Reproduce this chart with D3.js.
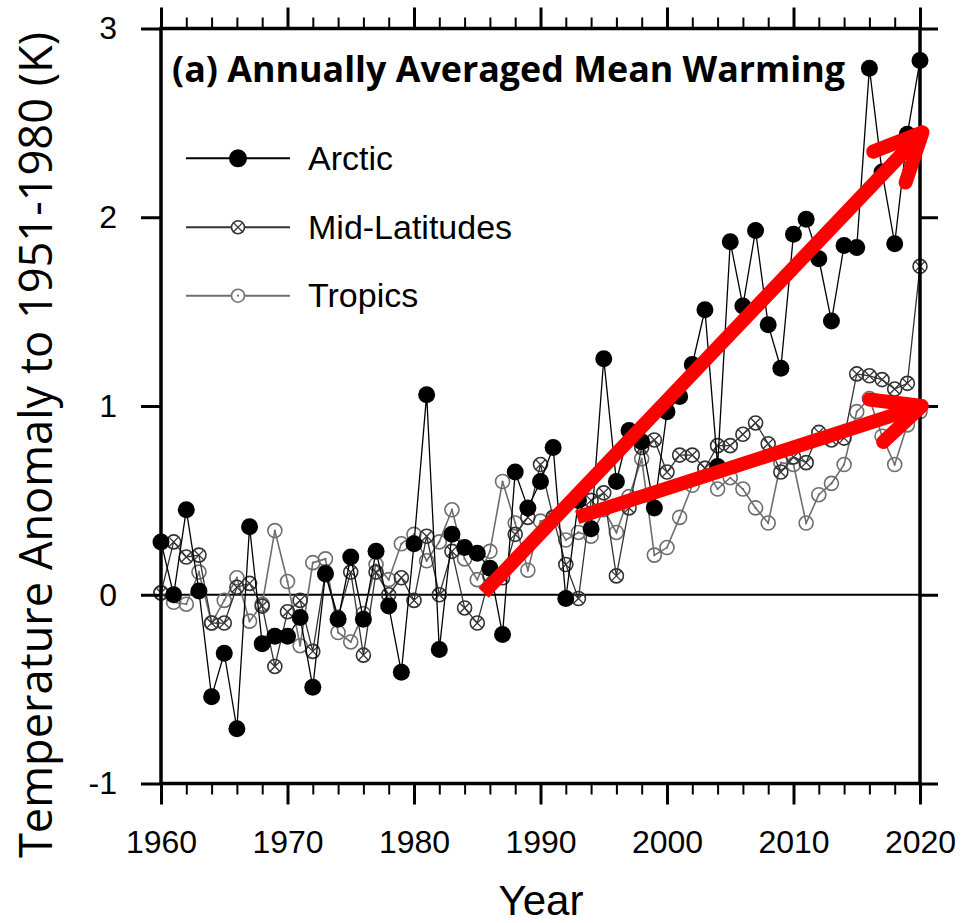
<!DOCTYPE html>
<html lang="en">
<head>
    <meta charset="UTF-8">
    <title>Annually averaged mean warming</title>
    <script src="https://cdn.jsdelivr.net/npm/d3@7"></script>
    <style>
        body { margin: 0; background: #fff; }
        svg text { font-family: 'Liberation Sans', Arial, sans-serif; }
    </style>
</head>
<body>
<script>
    // anomaly to 1951-1980 (K), one value per year 1960..2020
    const years = d3.range(1960, 2021);
    const arctic = [0.28, 0.00, 0.45, 0.02, -0.54, -0.31, -0.71, 0.36, -0.26, -0.22,
        -0.22, -0.12, -0.49, 0.11, -0.13, 0.20, -0.13, 0.23, -0.06, -0.41,
        0.27, 1.06, -0.29, 0.32, 0.25, 0.22, 0.14, -0.21, 0.65, 0.46,
        0.60, 0.78, -0.02, 0.50, 0.35, 1.25, 0.60, 0.87, 0.81, 0.46,
        0.97, 1.05, 1.22, 1.51, 0.68, 1.87, 1.53, 1.93, 1.43, 1.20,
        1.91, 1.99, 1.78, 1.45, 1.85, 1.84, 2.79, 2.24, 1.86, 2.44,
        2.83];
    const midLat = [0.01, 0.28, 0.20, 0.21, -0.15, -0.15, 0.04, 0.06, -0.06, -0.38,
        -0.09, -0.03, -0.30, 0.12, -0.12, 0.12, -0.32, 0.12, 0.00, 0.09,
        -0.03, 0.31, 0.00, 0.23, -0.07, -0.15, 0.10, 0.09, 0.32, 0.41,
        0.69, 0.41, 0.16, -0.02, 0.50, 0.54, 0.10, 0.46, 0.78, 0.82,
        0.65, 0.74, 0.74, 0.67, 0.79, 0.79, 0.85, 0.91, 0.80, 0.65,
        0.73, 0.70, 0.86, 0.82, 0.83, 1.17, 1.16, 1.14, 1.09, 1.12,
        1.74];
    const tropics = [0.01, -0.04, -0.05, 0.12, -0.15, -0.03, 0.09, -0.14, -0.05, 0.34,
        0.07, -0.27, 0.17, 0.19, -0.20, -0.25, -0.10, 0.16, 0.08, 0.27,
        0.32, 0.18, 0.28, 0.45, 0.19, 0.08, 0.23, 0.60, 0.38, 0.13,
        0.39, 0.41, 0.29, 0.33, 0.31, 0.45, 0.33, 0.52, 0.72, 0.21,
        0.25, 0.41, 0.58, 0.67, 0.56, 0.62, 0.56, 0.46, 0.38, 0.70,
        0.69, 0.38, 0.53, 0.59, 0.69, 0.97, 1.04, 0.84, 0.69, 0.90,
        0.97];

    const xMajor = [1960, 1970, 1980, 1990, 2000, 2010, 2020];
    const xMinor = d3.range(1960, 2021, 2);
    const yTicks = [-1, 0, 1, 2, 3];
    const seriesNames = ["Arctic", "Mid-Latitudes", "Tropics"];

    // red trend arrows drawn over the data (year, K)
    const arrowFrom = [[1985.5, 0.01], [1992.9, 0.41]];
    const arrowTo = [[2020.2, 2.45], [2020.15, 1.0]];

    const W = 961, H = 923;
    const x = d3.scaleLinear().domain([1960, 2020]).range([161, 920]);
    const y = d3.scaleLinear().domain([-1, 3]).range([783.5, 28.5]);

    const svg = d3.select("body").append("svg").attr("width", W).attr("height", H);

    // zero line
    svg.append("line")
        .attr("x1", x(1960)).attr("x2", x(2020))
        .attr("y1", y(0)).attr("y2", y(0))
        .attr("stroke", "#000").attr("stroke-width", 2);

    const styles = [
        {vals: arctic, line: "#000", lw: 1.3, marker: "dot"},
        {vals: midLat, line: "#333", lw: 1.3, marker: "cross"},
        {vals: tropics, line: "#6e6e6e", lw: 1.6, marker: "open"}
    ];

    function drawMarker(g, kind, col, r) {
        if (kind === "dot") {
            g.append("circle").attr("r", r).attr("fill", "#000");
        } else {
            g.append("circle").attr("r", r).attr("fill", "none")
                .attr("stroke", col).attr("stroke-width", 1.6);
            if (kind === "cross") {
                const k = r * 0.72;
                g.append("path").attr("d", `M${-k},${-k}L${k},${k}M${-k},${k}L${k},${-k}`)
                    .attr("stroke", col).attr("stroke-width", 1.3);
            } else {
                g.append("circle").attr("r", 1.1).attr("fill", col);
            }
        }
    }

    const line = d3.line().x((d, i) => x(years[i])).y(d => y(d));

    // tropics first, arctic on top
    [2, 1, 0].forEach(s => {
        const st = styles[s];
        svg.append("path").datum(st.vals)
            .attr("d", line)
            .attr("fill", "none")
            .attr("stroke", st.line)
            .attr("stroke-width", st.lw);
        const mk = svg.append("g").selectAll("g")
            .data(st.vals)
            .join("g")
            .attr("transform", (d, i) => `translate(${x(years[i])},${y(d)})`);
        mk.each(function () {
            drawMarker(d3.select(this), st.marker, st.line, st.marker === "dot" ? 8.5 : 7);
        });
    });

    // axes: minor and major ticks, all outward
    function tickStyle(g, w) {
        g.select(".domain").remove();
        g.selectAll(".tick line").attr("stroke", "#000").attr("stroke-width", w);
    }
    const plain = d => String(d); // hyphen minus, not unicode minus
    svg.append("g").attr("transform", `translate(0,${y(-1)})`)
        .call(d3.axisBottom(x).tickValues(xMinor).tickSize(11).tickFormat(""))
        .call(tickStyle, 2);
    svg.append("g").attr("transform", `translate(0,${y(3)})`)
        .call(d3.axisTop(x).tickValues(xMinor).tickSize(11).tickFormat(""))
        .call(tickStyle, 2);
    svg.append("g").attr("transform", `translate(0,${y(3)})`)
        .call(d3.axisTop(x).tickValues(xMajor).tickSize(21).tickFormat(""))
        .call(tickStyle, 3);
    const xb = svg.append("g").attr("transform", `translate(0,${y(-1)})`)
        .call(d3.axisBottom(x).tickValues(xMajor).tickSize(21).tickPadding(26).tickFormat(plain))
        .call(tickStyle, 3);
    xb.selectAll("text").attr("font-size", 32).attr("fill", "#000")
        .attr("font-family", "'Liberation Sans', Arial, sans-serif");

    const yl = svg.append("g").attr("transform", `translate(${x(1960)},0)`)
        .call(d3.axisLeft(y).tickValues(yTicks).tickSize(20).tickPadding(24).tickFormat(plain))
        .call(tickStyle, 3);
    yl.selectAll("text").attr("font-size", 32).attr("fill", "#000")
        .attr("font-family", "'Liberation Sans', Arial, sans-serif");
    svg.append("g").attr("transform", `translate(${x(2020)},0)`)
        .call(d3.axisRight(y).tickValues(yTicks).tickSize(18).tickFormat(""))
        .call(tickStyle, 3);

    // frame
    svg.append("rect")
        .attr("x", x(1960)).attr("y", y(3))
        .attr("width", x(2020) - x(1960)).attr("height", y(-1) - y(3))
        .attr("fill", "none").attr("stroke", "#000").attr("stroke-width", 3.5);

    // arrows
    const arm = 53, ang = 25 * Math.PI / 180;
    arrowFrom.forEach((a, i) => {
        const x0 = x(a[0]), y0 = y(a[1]);
        const x1 = x(arrowTo[i][0]), y1 = y(arrowTo[i][1]);
        const back = Math.atan2(y0 - y1, x0 - x1);
        const p1 = [x1 + arm * Math.cos(back + ang), y1 + arm * Math.sin(back + ang)];
        const p2 = [x1 + arm * Math.cos(back - ang), y1 + arm * Math.sin(back - ang)];
        const ex = x1 + 8 * Math.cos(back), ey = y1 + 8 * Math.sin(back);
        svg.append("line")
            .attr("x1", x0).attr("y1", y0).attr("x2", ex).attr("y2", ey)
            .attr("stroke", "#ff0000").attr("stroke-width", 14);
        svg.append("path")
            .attr("d", `M${p1[0]},${p1[1]}L${x1},${y1}L${p2[0]},${p2[1]}`)
            .attr("fill", "none").attr("stroke", "#ff0000").attr("stroke-width", 14)
            .attr("stroke-linecap", "round").attr("stroke-linejoin", "round");
    });

    // legend
    const legY = [158.3, 227.3, 295.7];
    seriesNames.forEach((name, i) => {
        const st = styles[i];
        const g = svg.append("g");
        const r = i === 0 ? 9 : 6.5;
        const gap = i === 0 ? 0 : r;
        g.append("line").attr("x1", 186).attr("x2", 238 - gap).attr("y1", legY[i]).attr("y2", legY[i])
            .attr("stroke", st.line).attr("stroke-width", 2);
        g.append("line").attr("x1", 238 + gap).attr("x2", 290).attr("y1", legY[i]).attr("y2", legY[i])
            .attr("stroke", st.line).attr("stroke-width", 2);
        const m = g.append("g").attr("transform", `translate(238,${legY[i]})`);
        drawMarker(m, st.marker, st.line, r);
        g.append("text").attr("x", 308).attr("y", legY[i] + 11.5)
            .attr("font-size", 34).text(name);
    });

    // title
    svg.append("text")
        .attr("x", 172).attr("y", 82)
        .attr("font-weight", "bold").attr("font-size", 36)
        .attr("textLength", 673).attr("lengthAdjust", "spacingAndGlyphs")
        .style("font-family", "'Open Sans', sans-serif")
        .text("(a) Annually Averaged Mean Warming");

    // axis titles
    svg.append("text")
        .attr("transform", "translate(52,445) rotate(-90)")
        .attr("text-anchor", "middle")
        .attr("font-size", 46)
        .attr("textLength", 826).attr("lengthAdjust", "spacingAndGlyphs")
        .style("font-family", "'Open Sans', sans-serif")
        .text("Temperature Anomaly to 1951-1980 (K)");
    svg.append("text")
        .attr("x", 541).attr("y", 915)
        .attr("text-anchor", "middle")
        .attr("font-size", 42)
        .text("Year");
</script>
</body>
</html>
